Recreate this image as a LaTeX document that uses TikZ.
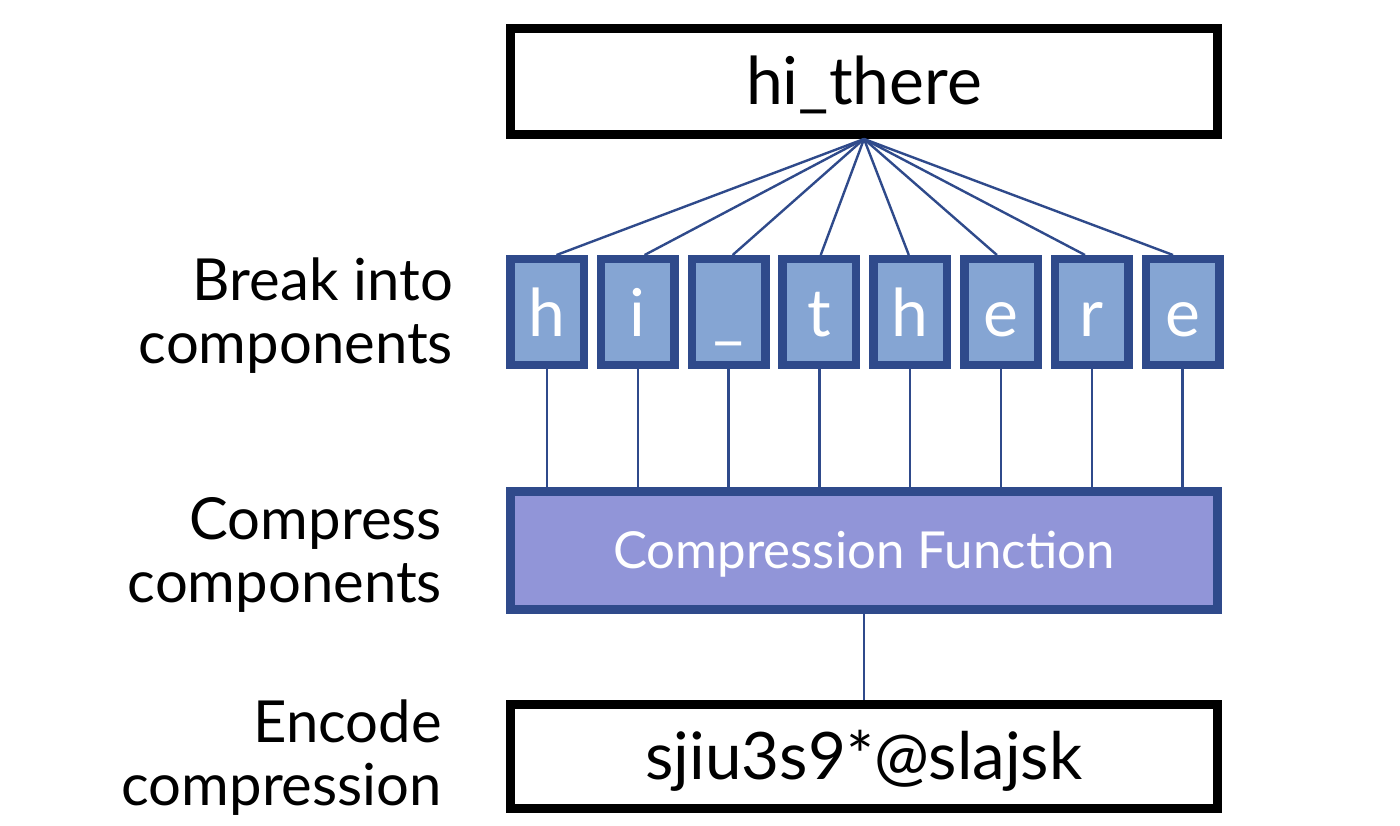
\documentclass[tikz,border=0pt]{standalone}
\usepackage{fontspec}
\setmainfont{Lato}
\usetikzlibrary{calc}
\definecolor{navy}{RGB}{47,74,139}
\definecolor{lightblue}{RGB}{133,165,211}
\definecolor{lavender}{RGB}{145,149,216}
\tikzset{
  blackbox/.style={draw=black, line width=9pt, fill=white, minimum width=707pt, inner sep=0pt, text depth=0pt},
  letterbox/.style={draw=navy, line width=8.5pt, fill=lightblue, minimum width=73.5pt, minimum height=105.5pt, inner sep=0pt, text=white, font=\fontsize{66}{66}\selectfont, text height=50pt, text depth=0pt},
  compbox/.style={draw=navy, line width=9pt, fill=lavender, minimum width=707pt, minimum height=118pt, inner sep=0pt, text=white, font=\fontsize{51}{51}\selectfont, text height=36pt, text depth=0pt},
  steplabel/.style={align=right, inner sep=0pt, anchor=base east, font=\fontsize{58}{63}\selectfont},
  conn/.style={draw=navy, line width=2.4pt}
}
\begin{document}
\begin{tikzpicture}[x=1pt,y=-1pt]
\useasboundingbox (0,0) rectangle (1400,826);
\fill[white] (0,0) rectangle (1400,826);
% boxes
\node[blackbox, minimum height=106pt, text height=47pt, font=\fontsize{66}{66}\selectfont] (top) at (864,81.5) {hi\_there};
\foreach \ch [count=\i from 0] in {h,i,\_,t,h,e,r,e} {
  \pgfmathsetmacro{\cx}{547+90.8*\i}
  \node[letterbox] (b\i) at (\cx,312) {\ch};
}
\node[compbox] (comp) at (864,550.5) {Compression Function};
\node[blackbox, minimum height=104pt, text height=46pt, font=\fontsize{65.5}{65.5}\selectfont] (enc) at (864,756.5) {sjiu3s9*@slajsk};
% connectors
\foreach \i in {0,...,7} {
  \coordinate (t\i) at ($(top.south)!0.97!(b\i.north)$);
  \draw[conn] (top.south) -- (t\i |- b\i.north);
  \draw[conn] (b\i.south) -- (b\i.south |- comp.north);
}
\draw[conn] (comp.south) -- (enc.north);
% labels
\node[steplabel] (l1) at (453,363) {Break into\\components};
\node[steplabel] (l2) at (442,602) {Compress\\components};
\node[steplabel] (l3) at (442,805) {Encode\\compression};
\end{tikzpicture}
\end{document}
